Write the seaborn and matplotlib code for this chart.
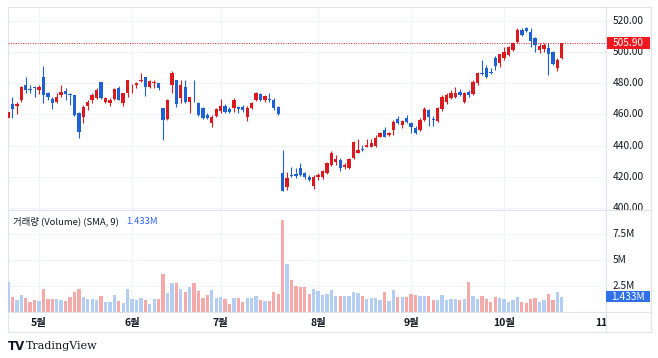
import numpy as np
import pandas as pd
import matplotlib
matplotlib.use("Agg")
import matplotlib.pyplot as plt
from matplotlib.patches import Rectangle
import seaborn as sns

# ---- 데이터 ----
opens = [457.6, 466.7, 465.5, 469.3, 478.9, 476.4, 477.8, 475.7, 484.3, 474.0,
         469.7, 468.2, 472.5, 475.3, 473.0, 472.5, 460.8, 458.6, 465.5, 469.0,
         470.8, 480.6, 468.2, 467.6, 469.7, 476.8, 467.6, 473.6, 477.4, 479.0,
         481.7, 483.9, 477.4, 480.0, 480.0, 464.0, 456.9, 478.9, 482.1, 470.4,
         477.8, 468.2, 472.7, 467.6, 464.0, 459.7, 454.7, 459.0, 462.4, 465.5,
         463.7, 464.0, 464.6, 465.0, 458.2, 464.0, 469.0, 473.2, 469.0, 470.0,
         469.3, 464.6, 422.7, 413.5, 420.8, 421.9, 425.5, 422.7, 420.1, 414.4,
         420.1, 419.7, 422.7, 427.6, 429.5, 430.8, 426.5, 425.5, 431.9, 435.6,
         437.6, 439.4, 439.4, 439.8, 445.8, 450.1, 446.9, 450.1, 456.9, 453.3,
         457.6, 454.3, 451.2, 450.2, 456.6, 462.6, 457.2, 456.1, 463.4, 468.3,
         470.9, 471.4, 474.7, 468.3, 474.3, 473.0, 480.0, 486.8, 489.6, 487.3,
         496.5, 492.8, 496.0, 498.2, 501.3, 506.3, 514.2, 515.3, 513.1, 508.9,
         501.3, 501.8, 502.4, 500.3, 489.6, 496.0]
highs = [471.4, 471.0, 468.2, 478.3, 483.9, 478.9, 478.3, 478.9, 491.1, 474.3,
         471.4, 474.0, 478.9, 476.8, 473.6, 472.8, 461.8, 466.1, 469.3, 474.0,
         476.8, 481.0, 471.4, 470.4, 476.9, 478.3, 474.0, 482.3, 479.8, 481.0,
         486.8, 484.3, 482.1, 482.1, 480.3, 464.3, 469.7, 488.1, 482.4, 482.1,
         482.1, 471.4, 482.1, 468.2, 464.6, 460.8, 459.7, 464.0, 469.7, 466.7,
         464.6, 470.4, 465.5, 466.1, 465.5, 468.2, 474.7, 473.6, 472.3, 474.0,
         470.4, 465.5, 437.5, 423.3, 426.0, 425.5, 428.7, 423.3, 421.2, 421.2,
         422.3, 424.4, 429.7, 436.8, 434.0, 431.9, 429.0, 431.9, 443.3, 444.0,
         440.4, 444.1, 444.1, 446.9, 449.0, 452.2, 449.0, 456.5, 459.0, 456.5,
         459.7, 455.4, 452.3, 457.6, 464.5, 463.4, 458.8, 465.1, 472.6, 474.0,
         476.0, 477.5, 476.4, 474.4, 476.0, 482.0, 487.5, 495.1, 491.8, 490.0,
         497.7, 499.0, 503.5, 504.1, 506.7, 515.3, 515.7, 516.3, 515.3, 510.0,
         505.6, 506.2, 505.6, 500.7, 496.0, 505.9]
lows = [442.5, 457.6, 460.3, 468.2, 474.0, 474.0, 471.0, 473.2, 467.2, 469.3,
        463.3, 467.2, 471.4, 469.3, 466.1, 459.0, 444.7, 454.7, 462.9, 467.6,
        469.7, 469.7, 467.2, 465.5, 469.3, 469.0, 465.5, 471.0, 474.0, 477.0,
        481.0, 471.9, 476.8, 476.8, 475.7, 443.6, 456.5, 473.6, 465.0, 467.2,
        467.6, 461.2, 468.2, 459.0, 456.9, 456.9, 451.8, 458.6, 460.8, 460.8,
        460.8, 461.8, 460.8, 461.5, 456.0, 463.3, 468.5, 468.8, 468.2, 468.2,
        462.9, 459.8, 410.8, 411.6, 419.8, 419.0, 420.6, 418.6, 417.5, 412.2,
        418.0, 418.6, 421.9, 426.9, 427.6, 424.0, 424.7, 425.0, 431.2, 435.1,
        436.8, 439.0, 439.0, 439.4, 445.4, 445.4, 446.5, 447.0, 454.0, 451.2,
        454.7, 448.0, 447.4, 449.5, 455.9, 452.6, 452.6, 455.5, 462.5, 466.8,
        470.0, 470.5, 472.0, 467.2, 471.5, 472.6, 479.0, 485.4, 483.2, 485.8,
        488.3, 490.7, 495.0, 497.6, 500.7, 505.6, 510.6, 513.2, 503.5, 500.3,
        499.6, 500.3, 485.4, 491.8, 487.9, 495.5]
closes = [461.8, 463.3, 466.7, 477.4, 475.7, 476.0, 477.2, 477.4, 472.5, 471.0,
          467.6, 471.4, 474.4, 473.2, 472.3, 459.7, 449.0, 465.0, 468.2, 472.5,
          475.7, 470.4, 470.4, 469.3, 476.6, 469.3, 473.6, 482.1, 477.8, 480.3,
          482.1, 477.4, 481.7, 481.0, 476.8, 456.5, 469.3, 486.4, 466.7, 478.9,
          468.2, 471.0, 472.3, 459.7, 457.6, 457.6, 458.6, 463.3, 465.5, 461.8,
          461.8, 469.3, 463.3, 462.9, 464.0, 467.6, 474.0, 469.3, 471.9, 469.3,
          464.0, 460.3, 411.2, 419.0, 420.5, 420.6, 421.2, 419.7, 418.0, 420.1,
          421.2, 423.9, 428.7, 435.1, 431.2, 425.5, 427.6, 431.2, 442.6, 437.4,
          437.2, 440.4, 442.0, 445.2, 447.9, 445.8, 447.9, 455.4, 454.3, 456.1,
          455.4, 452.2, 448.0, 456.6, 463.6, 458.1, 456.7, 464.0, 471.5, 472.6,
          473.7, 474.0, 472.6, 473.7, 472.6, 481.1, 486.4, 486.0, 483.9, 486.8,
          491.4, 498.6, 500.3, 503.5, 505.6, 514.2, 511.0, 513.6, 507.1, 504.6,
          504.1, 504.9, 498.6, 492.2, 495.0, 505.9]
# 거래량 (백만)
volumes = [2.9, 1.39, 1.13, 1.59, 1.33, 0.94, 1.13, 1.0, 2.17, 1.2,
           1.2, 1.2, 1.13, 1.0, 1.39, 1.91, 2.17, 1.39, 1.26, 1.2,
           1.07, 1.52, 0.94, 0.94, 1.59, 1.04, 0.87, 2.23, 1.2, 1.07,
           1.33, 1.13, 0.75, 1.2, 1.2, 3.64, 1.78, 2.72, 2.72, 2.2,
           1.94, 2.4, 2.72, 2.0, 1.33, 1.59, 2.1, 1.33, 1.39, 1.2,
           0.75, 1.33, 1.33, 0.94, 1.33, 1.33, 1.52, 1.07, 1.0, 1.0,
           1.91, 1.72, 8.87, 4.6, 3.1, 2.5, 2.4, 2.4, 1.68, 2.2,
           2.0, 1.62, 1.68, 2.1, 1.52, 1.52, 1.52, 1.52, 1.91, 1.78,
           1.52, 1.26, 1.33, 1.33, 1.07, 1.91, 1.0, 2.1, 1.39, 1.39,
           1.39, 1.72, 1.59, 1.46, 1.46, 1.52, 1.07, 1.13, 1.62, 1.13,
           1.2, 1.2, 1.07, 1.2, 2.9, 1.46, 1.2, 1.46, 1.26, 0.94,
           1.39, 1.33, 1.2, 0.94, 1.07, 1.39, 0.94, 0.81, 1.2, 1.33,
           0.94, 1.13, 1.72, 1.13, 1.94, 1.433]

month_labels = ["5월", "6월", "7월", "8월", "9월", "10월", "11월"]
month_pos = [7, 28, 48, 70, 91, 112, 135]   # 각 달 첫 거래일 인덱스
price_ticks = [400, 420, 440, 460, 480, 500, 520]
vol_ticks = [2.5, 5, 7.5]
vol_tick_labels = ["2.5M", "5M", "7.5M"]
last_price = 505.90
last_volume = 1.433

# 색상
UP = "#dd1920"
DOWN = "#1d61d4"
VOL_UP = "#b3cdf3"
VOL_DOWN = "#f5a9a9"
GRID = "#f0f3fa"
BORDER = "#e0e3eb"
TEXT = "#131722"

df = pd.DataFrame({"open": opens, "high": highs, "low": lows,
                   "close": closes, "volume": volumes})
df["idx"] = np.arange(len(df))
df["up"] = df["close"] >= df["open"]
df["vdir"] = np.where(df["up"], "up", "down")

sns.set_theme(style="white")
plt.rcParams['font.family'] = ['Noto Sans CJK KR', 'DejaVu Sans']

W, H = 658, 358
fig = plt.figure(figsize=(W / 100, H / 100), dpi=100)


def box(x0, y0, x1, y1):
    # 픽셀 좌표 (위에서부터) -> figure 비율
    return [x0 / W, 1 - y1 / H, (x1 - x0) / W, (y1 - y0) / H]


ax_p = fig.add_axes(box(8, 7, 606, 210))
ax_v = fig.add_axes(box(8, 210, 606, 311.5))
ax_t = fig.add_axes(box(8, 311.5, 606, 332))
ax_ps = fig.add_axes(box(606, 7, 651, 210))
ax_vs = fig.add_axes(box(606, 210, 651, 311.5))
ax_c = fig.add_axes(box(606, 311.5, 651, 332))

XMAX = 135
PY = (398.7, 529.0)
VY = (0, 9.85)

for a in [ax_p, ax_v, ax_t, ax_ps, ax_vs, ax_c]:
    a.set_xticks([])
    a.set_yticks([])
    a.set_facecolor("white")
    for s in a.spines.values():
        s.set_color(BORDER)
        s.set_linewidth(0.8)

# ---- 가격 캔들 ----
ax_p.set_xlim(0, XMAX)
ax_p.set_ylim(*PY)
for t in price_ticks:
    ax_p.axhline(t, color=GRID, lw=0.8, zorder=0)
for m in month_pos:
    ax_p.axvline(m, color=GRID, lw=0.8, zorder=0)

cols = np.where(df["up"], UP, DOWN)
ax_p.vlines(df["idx"], df["low"], df["high"], colors=cols, lw=0.8, zorder=2)
body_lo = np.minimum(df["open"], df["close"])
body_h = np.maximum((df["close"] - df["open"]).abs(), 0.4)
ax_p.bar(df["idx"], body_h, bottom=body_lo, width=0.76, color=cols,
         linewidth=0, zorder=3)
ax_p.axhline(last_price, color=UP, lw=0.7, ls=(0, (1, 1.5)), zorder=4)

# ---- 거래량 ----
sns.barplot(data=df, x="idx", y="volume", hue="vdir",
            palette={"up": VOL_UP, "down": VOL_DOWN}, dodge=False,
            native_scale=True, errorbar=None, width=0.75, saturation=1,
            legend=False, ax=ax_v, zorder=3, linewidth=0)
ax_v.set_xlim(0, XMAX)
ax_v.set_ylim(*VY)
ax_v.set_xlabel("")
ax_v.set_ylabel("")
ax_v.set_xticks([])
ax_v.set_yticks([])
for t in vol_ticks:
    ax_v.axhline(t, color=GRID, lw=0.8, zorder=0)
for m in month_pos:
    ax_v.axvline(m, color=GRID, lw=0.8, zorder=0)
leg = ax_v.text(0.009, 0.89, "거래량 (Volume) (SMA, 9)", transform=ax_v.transAxes,
                fontsize=6.8, color=TEXT, va="center", ha="left")
ax_v.annotate(f"{last_volume:.3f}M", xy=(1, 0.5), xycoords=leg,
              xytext=(5, 0), textcoords="offset points",
              fontsize=6.8, color="#2962ff", va="center", ha="left")

# ---- 시간 축 ----
ax_t.set_xlim(0, XMAX)
ax_t.set_ylim(0, 1)
for m, lab in zip(month_pos, month_labels):
    ax_t.text(m, 0.45, lab, ha="center", va="center", fontsize=7.5,
              fontweight="bold", color=TEXT, clip_on=True)

# ---- 가격 축 ----
ax_ps.set_xlim(0, 1)
ax_ps.set_ylim(*PY)
for t in price_ticks:
    ax_ps.text(0.14, t, f"{t:.2f}", fontsize=7.3, color=TEXT,
               va="center", ha="left", clip_on=True)
ax_ps.add_patch(Rectangle((0.02, last_price - 3.9), 0.96, 7.8,
                          color="#f0171f", lw=0, zorder=5))
ax_ps.text(0.5, last_price, f"{last_price:.2f}", fontsize=7.3, color="white",
           va="center", ha="center", zorder=6)

# ---- 거래량 축 ----
ax_vs.set_xlim(0, 1)
ax_vs.set_ylim(*VY)
for t, lab in zip(vol_ticks, vol_tick_labels):
    ax_vs.text(0.14, t, lab, fontsize=7.3, color=TEXT, va="center",
               ha="left", clip_on=True)
ax_vs.add_patch(Rectangle((0.0, last_volume - 0.53), 0.98, 1.06,
                          color="#2f6fe8", lw=0, zorder=5))
ax_vs.text(0.5, last_volume, f"{last_volume:.3f}M", fontsize=7.3,
           color="white", va="center", ha="center", zorder=6)

# ---- 로고 ----
fig.text(8 / W, 1 - 346 / H, "TV", fontsize=8.5, fontweight="heavy",
         color=TEXT, va="center", ha="left", family=["DejaVu Sans"])
fig.text(26 / W, 1 - 346 / H, "TradingView", fontsize=8, color=TEXT,
         va="center", ha="left", family=["DejaVu Serif"])

fig.savefig("out.png", dpi=100)
